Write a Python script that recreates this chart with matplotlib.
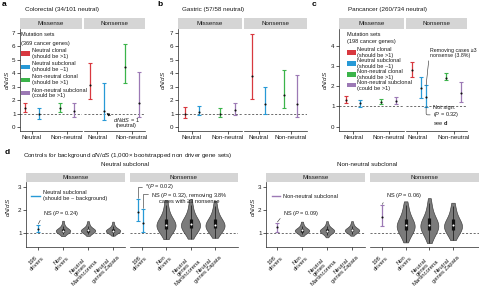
import numpy as np
import matplotlib
matplotlib.use("Agg")
import matplotlib.pyplot as plt
from matplotlib.patches import Rectangle
from matplotlib.lines import Line2D

plt.rcParams['font.family'] = ['Liberation Sans', 'DejaVu Sans']
plt.rcParams['mathtext.fontset'] = 'custom'
plt.rcParams['mathtext.rm'] = 'Liberation Sans'
plt.rcParams['mathtext.it'] = 'Liberation Sans:italic'
plt.rcParams['mathtext.bf'] = 'Liberation Sans:bold'

# ---------------- data ----------------
groups = ["Neutral", "Non-neutral"]
facets = ["Missense", "Nonsense"]
set_names = ["Neutral clonal", "Neutral subclonal", "Non-neutral clonal", "Non-neutral subclonal"]
set_notes = ["(should be >1)", "(should be ~1)", "(should be >1)", "(could be >1)"]

# order: neutral clonal, neutral subclonal, non-neutral clonal, non-neutral subclonal
crc_mis_est = [1.45, 1.00, 1.45, 1.18]
crc_mis_lo = [1.08, 0.62, 1.12, 0.78]
crc_mis_hi = [1.82, 1.45, 1.78, 1.76]
crc_non_est = [3.15, 1.20, 4.50, 1.81]
crc_non_lo = [2.08, 0.55, 3.30, 0.77]
crc_non_hi = [4.78, 3.28, 6.20, 4.12]

gas_mis_est = [1.00, 1.15, 1.00, 1.25]
gas_mis_lo = [0.68, 0.87, 0.75, 0.88]
gas_mis_hi = [1.48, 1.55, 1.38, 1.76]
gas_non_est = [3.78, 1.70, 2.40, 1.68]
gas_non_lo = [2.07, 0.98, 1.38, 0.72]
gas_non_hi = [6.90, 2.95, 4.25, 3.85]

pan_mis_est = [1.33, 1.15, 1.23, 1.25]
pan_mis_lo = [1.17, 0.98, 1.13, 1.10]
pan_mis_hi = [1.50, 1.33, 1.36, 1.46]
pan_non_est = [2.80, 1.90, 2.38, 1.66]
pan_non_lo = [2.43, 1.43, 2.28, 1.21]
pan_non_hi = [3.20, 2.44, 2.65, 2.20]
pan_non_removed = [1.45, 0.97, 2.03]  # est, lo, hi (removing cases with >=3 nonsense)

ctrl_labels = ["198\ndrivers", "Non\ndrivers", "Neutral\ngenes\nMartincorena", "Neutral\ngenes Zapata"]
ns_mis_driver = [1.18, 1.03, 1.35]
ns_non_driver = [1.91, 1.50, 2.48]
ns_non_driver_removed = [1.43, 1.04, 2.03]
nn_mis_driver = [1.24, 1.05, 1.44]
nn_non_driver = [1.68, 1.28, 2.20]

ns_mis_nondrivers = [0.85, 0.93, 0.97, 1.0, 1.02, 1.04, 1.05, 1.06, 1.07, 1.08, 1.09, 1.1, 1.11, 1.12, 1.14, 1.16, 1.19, 1.23, 1.29, 1.38, 1.52]
ns_mis_martincorena = [0.86, 0.94, 0.98, 1.01, 1.03, 1.05, 1.06, 1.07, 1.08, 1.09, 1.1, 1.11, 1.12, 1.13, 1.15, 1.17, 1.2, 1.24, 1.3, 1.39, 1.5]
ns_mis_zapata = [0.87, 0.95, 0.99, 1.01, 1.03, 1.04, 1.05, 1.06, 1.07, 1.08, 1.09, 1.1, 1.11, 1.12, 1.14, 1.16, 1.18, 1.22, 1.27, 1.35, 1.48]
ns_non_nondrivers = [0.72, 0.88, 0.98, 1.05, 1.1, 1.14, 1.18, 1.22, 1.25, 1.28, 1.31, 1.33, 1.35, 1.38, 1.41, 1.45, 1.49, 1.54, 1.6, 1.67, 1.76, 1.88, 2.02, 2.2, 2.42]
ns_non_martincorena = [0.74, 0.9, 0.99, 1.06, 1.11, 1.15, 1.19, 1.23, 1.26, 1.29, 1.31, 1.33, 1.36, 1.39, 1.42, 1.46, 1.5, 1.55, 1.61, 1.68, 1.77, 1.9, 2.04, 2.22, 2.45]
ns_non_zapata = [0.78, 0.92, 1.0, 1.07, 1.12, 1.16, 1.19, 1.22, 1.25, 1.28, 1.3, 1.32, 1.34, 1.37, 1.4, 1.44, 1.48, 1.53, 1.58, 1.65, 1.74, 1.85, 1.98, 2.15, 2.38]
nn_mis_nondrivers = [0.86, 0.94, 0.98, 1.01, 1.03, 1.05, 1.06, 1.07, 1.08, 1.09, 1.1, 1.11, 1.12, 1.13, 1.15, 1.17, 1.2, 1.24, 1.3, 1.38, 1.48]
nn_mis_martincorena = [0.8, 0.9, 0.95, 0.99, 1.01, 1.03, 1.05, 1.06, 1.07, 1.08, 1.09, 1.1, 1.11, 1.12, 1.14, 1.16, 1.19, 1.23, 1.29, 1.37, 1.5]
nn_mis_zapata = [0.87, 0.95, 0.99, 1.02, 1.04, 1.06, 1.07, 1.08, 1.09, 1.1, 1.11, 1.12, 1.13, 1.14, 1.16, 1.18, 1.21, 1.25, 1.31, 1.39, 1.5]
nn_non_nondrivers = [0.58, 0.74, 0.86, 0.95, 1.02, 1.08, 1.12, 1.16, 1.2, 1.23, 1.26, 1.29, 1.32, 1.35, 1.39, 1.43, 1.48, 1.54, 1.6, 1.68, 1.78, 1.9, 2.04, 2.2, 2.36]
nn_non_martincorena = [0.55, 0.72, 0.85, 0.95, 1.02, 1.08, 1.13, 1.17, 1.21, 1.24, 1.27, 1.3, 1.33, 1.36, 1.4, 1.44, 1.49, 1.55, 1.62, 1.7, 1.8, 1.93, 2.08, 2.28, 2.5]
nn_non_zapata = [0.68, 0.8, 0.9, 0.98, 1.04, 1.09, 1.13, 1.17, 1.2, 1.23, 1.26, 1.29, 1.32, 1.35, 1.38, 1.42, 1.47, 1.52, 1.58, 1.65, 1.74, 1.86, 2.0, 2.15, 2.3]

# ---------------- style / layout ----------------
W, H = 479, 286
fig = plt.figure(figsize=(W / 100, H / 100), dpi=100)
COLS = ['#d8383f', '#2799d6', '#3bb44a', '#9c79b5']
FS = 4.5
SFS = 4.1
TXT = '#1a1a1a'


def P(x, y):
    return (x / W, 1 - y / H)


def strip(x0, x1, y0, y1, label):
    s = fig.add_axes([x0 / W, 1 - y1 / H, (x1 - x0) / W, (y1 - y0) / H])
    s.set_facecolor('#d5d5d5')
    s.set_xticks([])
    s.set_yticks([])
    for sp in s.spines.values():
        sp.set_visible(False)
    s.text(0.5, 0.5, label, ha='center', va='center', fontsize=FS,
           transform=s.transAxes, color=TXT)
    return s


def facet(x0, x1, y0, y1, t_first, t_last, n, ylim, left):
    ax = fig.add_axes([x0 / W, 1 - y1 / H, (x1 - x0) / W, (y1 - y0) / H])
    s = (t_last - t_first) / (n - 1)
    ax.set_xlim(1 - (t_first - x0) / s, n + (x1 - t_last) / s)
    ax.set_ylim(*ylim)
    ax.patch.set_alpha(0)
    for k in ('top', 'right'):
        ax.spines[k].set_visible(False)
    for k in ('bottom', 'left'):
        ax.spines[k].set_linewidth(0.5)
        ax.spines[k].set_color('#222')
    if not left:
        ax.spines['left'].set_visible(False)
        ax.tick_params(axis='y', left=False, labelleft=False)
    ax.tick_params(length=2, width=0.5, pad=1.2, labelsize=FS, colors=TXT)
    ax.axhline(1, color='#333', lw=0.5, ls=(0, (3, 2.5)), zorder=0.5)
    return ax


def ebar(ax, x, e, lo, hi, c):
    ax.errorbar([x], [e], yerr=[[e - lo], [hi - e]], fmt='none', ecolor=c,
                elinewidth=0.9, capsize=1.4, capthick=0.8, zorder=3)
    ax.plot([x], [e], 'o', color='#111', ms=1.5, mec='none', zorder=4)


def top_panel(xs, ticks, ylim, yticks, mis, non, offs_non=None):
    y0, y1 = 29, 131
    axes = []
    for k in range(2):
        x0, x1 = xs[k]
        strip(x0, x1, 18, 29, facets[k])
        ax = facet(x0, x1, y0, y1, ticks[k][0], ticks[k][1], 2, ylim, k == 0)
        ax.set_xticks([1, 2])
        ax.set_xticklabels(groups)
        ax.set_yticks(yticks)
        est, lo, hi = (mis, non)[k]
        offs = [-0.2, 0.2, -0.2, 0.2]
        if k == 1 and offs_non is not None:
            offs = offs_non
        for i in range(4):
            ebar(ax, 1 + i // 2 + offs[i], est[i], lo[i], hi[i], COLS[i])
        axes.append(ax)
    return axes


# panel a
axa = top_panel([(20, 82), (84, 145)], [(31.5, 66.5), (97, 132)], (-0.3, 7.3), range(8),
                (crc_mis_est, crc_mis_lo, crc_mis_hi), (crc_non_est, crc_non_lo, crc_non_hi))
# panel b
axb = top_panel([(178, 242), (244, 307)], [(192, 227.5), (258.5, 290.5)], (-0.3, 7.3), range(8),
                (gas_mis_est, gas_mis_lo, gas_mis_hi), (gas_non_est, gas_non_lo, gas_non_hi))
# panel c
axc = top_panel([(339, 404), (406, 467)], [(353, 388.5), (417, 453.5)], (-0.22, 4.815), range(5),
                (pan_mis_est, pan_mis_lo, pan_mis_hi), (pan_non_est, pan_non_lo, pan_non_hi),
                offs_non=[-0.15, 0.1, -0.2, 0.2])
x_removed = 1.25
ebar(axc[1], x_removed, pan_non_removed[0], pan_non_removed[1], pan_non_removed[2], COLS[1])

# titles / letters / y labels for top row
for letter, lx, title, tx, ylx in [("a", 2, "Colorectal (34/101 neutral)", 25, 7),
                                   ("b", 157, "Gastric (57/58 neutral)", 182, 163),
                                   ("c", 312, "Pancancer (260/734 neutral)", 348, 325)]:
    fig.text(*P(lx, 5), letter, fontsize=6, fontweight='bold', va='center', ha='left')
    fig.text(*P(tx, 10), title, fontsize=FS, va='center', ha='left', color=TXT)
    fig.text(*P(ylx, 80), r"$dN/dS$", fontsize=FS, rotation=90, va='center', ha='center', color=TXT)


def set_legend(x_box, x_txt, y_head, yc0, dy, genes):
    fig.text(*P(x_box, y_head), "Mutation sets", fontsize=SFS, va='center', ha='left', color=TXT)
    fig.text(*P(x_box, y_head + 8), genes, fontsize=SFS, va='center', ha='left', color=TXT)
    for i in range(4):
        yc = yc0 + dy * i
        fig.add_artist(Rectangle(P(x_box, yc + 2.2), 9 / W, 4.4 / H, transform=fig.transFigure,
                                 facecolor=COLS[i], edgecolor='none'))
        fig.text(*P(x_txt, yc - 2.9), set_names[i], fontsize=SFS, va='center', ha='left', color=TXT)
        fig.text(*P(x_txt, yc + 2.9), set_notes[i], fontsize=SFS, va='center', ha='left', color=TXT)


set_legend(21, 32, 35, 53.5, 13.2, "(369 cancer genes)")
set_legend(347, 357, 34, 52.5, 10.9, "(198 cancer genes)")

# panel a arrow annotation
axa[1].annotate(r"$dN/dS$ = 1" + "\n(neutral)", xy=(1.27, 1.02), xytext=P(113, 122),
                textcoords='figure fraction', fontsize=SFS, ha='left', va='center',
                ma='center', color=TXT, linespacing=1.0,
                arrowprops=dict(arrowstyle='-|>', lw=0.6, color='#111', mutation_scale=4,
                                shrinkA=0, shrinkB=0, relpos=(0.05, 0.8)))

# panel c annotations
axc[1].annotate("Removing cases \u22653\nnonsense (3.8%)", xy=(x_removed, pan_non_removed[2]),
                xytext=P(430, 53), textcoords='figure fraction', fontsize=3.75, ha='left',
                va='center', color=TXT, linespacing=1.0, annotation_clip=False,
                arrowprops=dict(arrowstyle='-', lw=0.4, color='#222', relpos=(0, 1),
                                shrinkA=0, shrinkB=0))
axc[1].annotate("Not sign.\n" + r"($P$ = 0.32)" + "\n" + r"see $\mathbf{d}$",
                xy=(x_removed, pan_non_removed[1]), xytext=P(433, 116),
                textcoords='figure fraction', fontsize=SFS, ha='left', va='center',
                color=TXT, linespacing=1.05,
                arrowprops=dict(arrowstyle='-', lw=0.4, color='#222', relpos=(-0.05, 0.55),
                                connectionstyle='angle,angleA=0,angleB=90,rad=1.5',
                                shrinkA=0, shrinkB=0))

# ---------------- panel d ----------------
fig.text(*P(5, 152), "d", fontsize=6, fontweight='bold', va='center', ha='left')
fig.text(*P(128, 155), r"Controls for background $dN/dS$ (1,000" + "\u00d7 bootstrapped non driver gene sets)",
         fontsize=FS, va='center', ha='center', color=TXT)
fig.text(*P(125, 165), "Neutral subclonal", fontsize=FS, va='center', ha='center', color=TXT)
fig.text(*P(367, 165), "Non-neutral subclonal", fontsize=FS, va='center', ha='center', color=TXT)
fig.text(*P(8, 207), r"$dN/dS$", fontsize=FS, rotation=90, va='center', ha='center', color=TXT)
fig.text(*P(253, 207), r"$dN/dS$", fontsize=FS, rotation=90, va='center', ha='center', color=TXT)


def violins(ax, data, width):
    pos = [2, 3, 4]
    parts = ax.violinplot(data, positions=pos, widths=width, showextrema=False, bw_method=0.62)
    for b in parts['bodies']:
        b.set_facecolor('#7b7b7b')
        b.set_edgecolor('#3a3a3a')
        b.set_linewidth(0.45)
        b.set_alpha(1)
        b.set_zorder(2)
    for p, d in zip(pos, data):
        d = np.asarray(d)
        q1, med, q3 = np.percentile(d, [25, 50, 75])
        iqr = q3 - q1
        wlo = d[d >= q1 - 1.5 * iqr].min()
        whi = d[d <= q3 + 1.5 * iqr].max()
        ax.vlines(p, wlo, whi, color='#111', lw=0.5, zorder=3)
        ax.vlines(p, q1, q3, color='#111', lw=2.3, zorder=3)
        ax.plot([p], [med], 'o', color='white', ms=1.5, mec='none', zorder=4)


def d_facet(x0, x1, t1, t4, left, label):
    strip(x0, x1, 173, 182, label)
    ax = facet(x0, x1, 182, 247, t1, t4, 4, (0.38, 3.2), left)
    ax.set_yticks([1, 2, 3])
    ax.set_xticks([1, 2, 3, 4])
    ax.set_xticklabels(ctrl_labels, rotation=45, ha='right', rotation_mode='anchor',
                       fontsize=4.2, ma='center', linespacing=1.0)
    ax.tick_params(axis='x', pad=1.5)
    return ax


d1 = d_facet(26, 125, 38, 113, True, facets[0])
d2 = d_facet(130, 238, 141.5, 215, False, facets[1])
d3 = d_facet(266, 365, 277, 352, True, facets[0])
d4 = d_facet(370, 479, 382, 453, False, facets[1])

violins(d1, [ns_mis_nondrivers, ns_mis_martincorena, ns_mis_zapata], 0.58)
violins(d2, [ns_non_nondrivers, ns_non_martincorena, ns_non_zapata], 0.78)
violins(d3, [nn_mis_nondrivers, nn_mis_martincorena, nn_mis_zapata], 0.58)
violins(d4, [nn_non_nondrivers, nn_non_martincorena, nn_non_zapata], 0.76)

ebar(d1, 1, *ns_mis_driver, COLS[1])
ebar(d2, 1 - 0.13, *ns_non_driver, COLS[1])
ebar(d2, 1 + 0.06, *ns_non_driver_removed, COLS[1])
ebar(d3, 1, *nn_mis_driver, COLS[3])
ebar(d4, 1, *nn_non_driver, COLS[3])

# legends in d
fig.add_artist(Line2D([31 / W, 40 / W], [1 - 196 / H] * 2, color=COLS[1], lw=1.0, transform=fig.transFigure))
fig.text(*P(43, 192), "Neutral subclonal", fontsize=SFS, va='center', ha='left', color=TXT)
fig.text(*P(43, 198.5), "(should be ~ background)", fontsize=SFS, va='center', ha='left', color=TXT)
fig.add_artist(Line2D([272 / W, 280 / W], [1 - 196 / H] * 2, color=COLS[3], lw=1.0, transform=fig.transFigure))
fig.text(*P(283, 196), "Non-neutral subclonal", fontsize=SFS, va='center', ha='left', color=TXT)

ann = dict(textcoords='figure fraction', fontsize=SFS, va='center', color=TXT)
line = dict(arrowstyle='-', lw=0.4, color='#222', shrinkA=0, shrinkB=0.5)
d1.annotate(r"NS ($P$ = 0.24)", xy=(1, ns_mis_driver[2]), xytext=P(43, 214), ha='left',
            arrowprops=dict(line, relpos=(0, 0.4)), **ann)
d2.annotate(r"*($P$ = 0.02)", xy=(1 - 0.13, ns_non_driver[2]), xytext=P(145, 186.5), ha='left',
            arrowprops=dict(line, relpos=(-0.03, 0.5), connectionstyle='angle,angleA=0,angleB=90,rad=0'), **ann)
d2.annotate(r"NS ($P$ = 0.32), removing 3.8%" + "\ncases with \u22653 nonsense",
            xy=(1 + 0.06, ns_non_driver_removed[2]), xytext=P(151, 197.5), ha='left', ma='center',
            linespacing=0.95,
            arrowprops=dict(line, relpos=(-0.02, 0.75), connectionstyle='angle,angleA=0,angleB=90,rad=0'), **ann)
d3.annotate(r"NS ($P$ = 0.09)", xy=(1, nn_mis_driver[2]), xytext=P(283, 214), ha='left',
            arrowprops=dict(line, relpos=(0, 0.4)), **ann)
d4.annotate(r"NS ($P$ = 0.06)", xy=(1, nn_non_driver[2]), xytext=P(386, 196), ha='left',
            arrowprops=dict(line, relpos=(0, 0.4)), **ann)

fig.savefig("out.png", dpi=100)
